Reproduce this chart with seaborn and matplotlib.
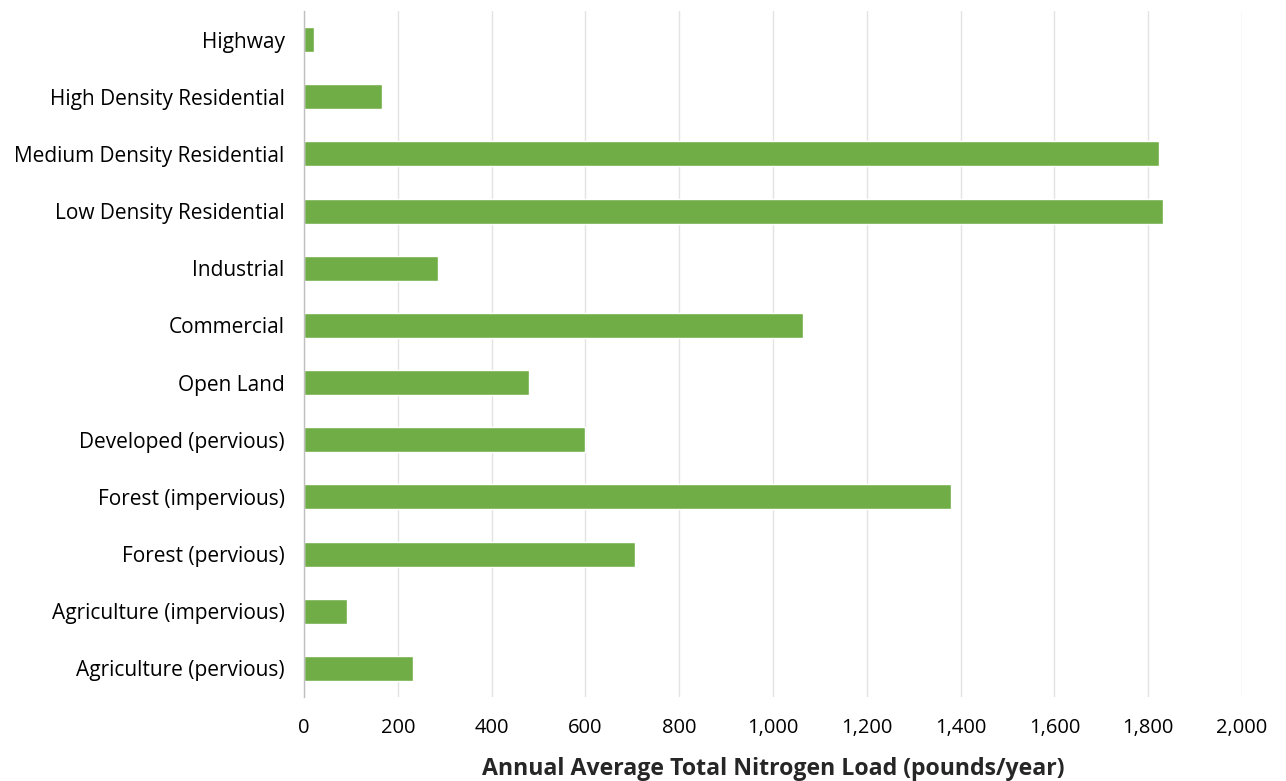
import matplotlib
matplotlib.use("Agg")
import matplotlib.pyplot as plt
import seaborn as sns
import pandas as pd
from matplotlib.ticker import FuncFormatter

categories = [
    "Highway",
    "High Density Residential",
    "Medium Density Residential",
    "Low Density Residential",
    "Industrial",
    "Commercial",
    "Open Land",
    "Developed (pervious)",
    "Forest (impervious)",
    "Forest (pervious)",
    "Agriculture (impervious)",
    "Agriculture (pervious)",
]
loads = [22, 167, 1824, 1832, 285, 1064, 480, 600, 1380, 706, 92, 233]
x_ticks = [0, 200, 400, 600, 800, 1000, 1200, 1400, 1600, 1800, 2000]

df = pd.DataFrame({"category": categories, "load": loads})

sns.set_style("white")
plt.rcParams["font.family"] = ["Open Sans", "DejaVu Sans"]

fig = plt.figure(figsize=(12.86, 7.81), dpi=100)
ax = fig.add_axes([304 / 1286, 1 - 697 / 781, (1242 - 304) / 1286, (697 - 11) / 781])

sns.barplot(data=df, x="load", y="category", color="#70AD47", width=0.44,
            saturation=1, ax=ax, orient="h")

ax.set_xlim(0, 2000)
ax.set_ylim(len(categories) - 0.5, -0.5)
ax.set_xticks(x_ticks)
ax.xaxis.set_major_formatter(FuncFormatter(lambda v, p: f"{int(v):,}"))
ax.grid(axis="x", color="#E3E3E3", linewidth=1)
ax.set_axisbelow(True)
for s in ["top", "right", "bottom"]:
    ax.spines[s].set_visible(False)
ax.spines["left"].set_color("#BFBFBF")
ax.spines["left"].set_linewidth(1)
ax.tick_params(axis="both", length=0, colors="black")
ax.tick_params(axis="y", pad=14, labelsize=15)
ax.tick_params(axis="x", pad=15, labelsize=14.5)
ax.set_ylabel("")
ax.set_xlabel("Annual Average Total Nitrogen Load (pounds/year)", fontsize=16.7,
              fontweight="bold", labelpad=14)

fig.savefig("out.png", dpi=100)
